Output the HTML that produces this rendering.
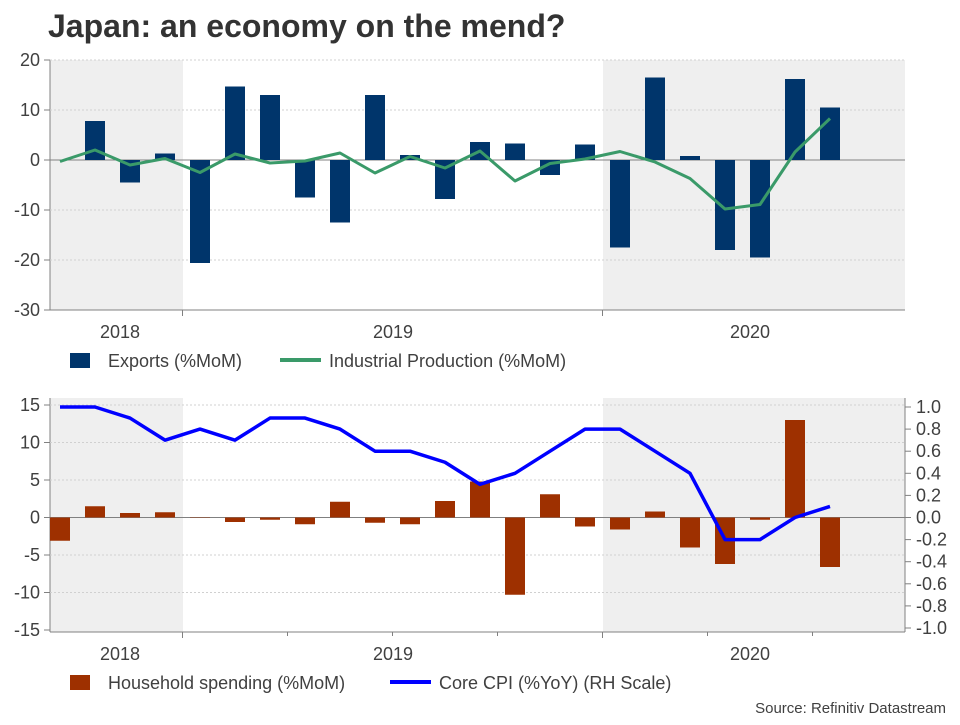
<!DOCTYPE html>
<html><head><meta charset="utf-8"><style>
body{margin:0;background:#fff;font-family:"Liberation Sans",Arial,sans-serif}
svg text{font-family:"Liberation Sans",Arial,sans-serif;fill:#404040}
</style></head><body>
<svg id="c" width="960" height="720" xmlns="http://www.w3.org/2000/svg">
<text x="48" y="37" font-size="32" font-weight="bold" style="fill:#333">Japan: an economy on the mend?</text>
<text x="946" y="713" font-size="15" text-anchor="end">Source: Refinitiv Datastream</text>
</svg>
<script>
const months=["Sep18","Oct18","Nov18","Dec18","Jan19","Feb19","Mar19","Apr19","May19","Jun19","Jul19","Aug19","Sep19","Oct19","Nov19","Dec19","Jan20","Feb20","Mar20","Apr20","May20","Jun20","Jul20"];
const exportsVals=[0,7.8,-4.5,1.3,-20.6,14.7,13,-7.5,-12.5,13,1,-7.8,3.6,3.3,-3,3.1,-17.5,16.5,0.8,-18,-19.5,16.2,10.5];
const ipVals=[-0.3,2.0,-1,0.3,-2.5,1.2,-0.6,-0.2,1.4,-2.6,0.7,-1.6,1.8,-4.2,-0.7,0.2,1.7,-0.4,-3.7,-9.8,-8.9,1.6,8.3];
const hhVals=[-3.1,1.5,0.6,0.7,0.05,-0.6,-0.3,-0.9,2.1,-0.7,-0.9,2.2,4.8,-10.3,3.1,-1.2,-1.6,0.8,-4,-6.2,-0.3,13,-6.6];
const cpiVals=[1.0,1.0,0.9,0.7,0.8,0.7,0.9,0.9,0.8,0.6,0.6,0.5,0.3,0.4,0.6,0.8,0.8,0.6,0.4,-0.2,-0.2,0.0,0.1];
const topTicks=[20,10,0,-10,-20,-30];
const botTicks=[15,10,5,0,-5,-10,-15];
const rTicks=[1.0,0.8,0.6,0.4,0.2,0.0,-0.2,-0.4,-0.6,-0.8,-1.0];
const years=["2018","2019","2020"];

const svg=document.getElementById('c');const NS="http://www.w3.org/2000/svg";
function el(t,a,p){const e=document.createElementNS(NS,t);for(const k in a)e.setAttribute(k,a[k]);(p||svg).appendChild(e);return e;}
const X=i=>60+i*35;
const L=50,R=905;
function panel(y0,y1,pre,minor){
  let g=el('rect',{x:L,y:y0,width:133,height:y1-y0,fill:'#efefef'});
  
  g=el('rect',{x:603,y:y0,width:R-603,height:y1-y0,fill:'#efefef'});
  
  let a=el('line',{x1:L,x2:R,y1:y1,y2:y1,stroke:'#808080'});
  
  a=el('line',{x1:L,x2:L,y1:y0,y2:y1,stroke:'#808080'});
  
  for(let x=182.5;x<R;x+=105){const big=(Math.abs(x-182.5)<1||Math.abs(x-602.5)<1);
    if(!big&&!minor)continue;
    const t=el('line',{x1:x,x2:x,y1:y1,y2:y1+(big?6:4),stroke:'#808080'});
    }
  const yx=[120,393,750];
  years.forEach((y,i)=>{const t=el('text',{x:yx[i],y:y1+28,'font-size':18,'text-anchor':'middle'});t.textContent=y;
    });
}
const Yt=v=>160-v*5;
panel(60,310,'top',false);
topTicks.forEach(v=>{const y=Yt(v);
  if(v!==-30){const gl=el('line',{x1:L,x2:R,y1:y,y2:y,stroke:v===0?'#808080':'#d0d0d0','stroke-dasharray':v===0?'':'2,2'});
  }
  const tk=el('line',{x1:L-6,x2:L,y1:y,y2:y,stroke:'#808080'});
  
  const t=el('text',{x:L-10,y:y+6,'font-size':18,'text-anchor':'end'});t.textContent=v;
  });
exportsVals.forEach((v,i)=>{const r=el('rect',{x:X(i)-10,y:Math.min(Yt(v),Yt(0)),width:20,height:Math.abs(Yt(v)-Yt(0)),fill:'#00356b'});
  });
let p=el('polyline',{points:ipVals.map((v,i)=>X(i)+','+Yt(v)).join(' '),fill:'none',stroke:'#3a9a69','stroke-width':3,'stroke-linejoin':'round'});

let lg=el('rect',{x:70,y:353,width:20,height:15,fill:'#00356b'});
let lt=el('text',{x:108,y:367,'font-size':18});lt.textContent='Exports (%MoM)';
lg=el('line',{x1:280,x2:321,y1:360,y2:360,stroke:'#3a9a69','stroke-width':4});
lt=el('text',{x:329,y:367,'font-size':18});lt.textContent='Industrial Production (%MoM)';
const Yb=v=>517.5-v*7.5;
const Yr=v=>517.5-v*110.5;
panel(398,632,'bottom',true);
let ra=el('line',{x1:R,x2:R,y1:398,y2:632,stroke:'#808080'});
botTicks.forEach(v=>{const y=Yb(v);
  if(v!==-15){const gl=el('line',{x1:L,x2:R,y1:y,y2:y,stroke:v===0?'#808080':'#d0d0d0','stroke-dasharray':v===0?'':'2,2'});
  }
  const tk=el('line',{x1:L-6,x2:L,y1:y,y2:y,stroke:'#808080'});
  const t=el('text',{x:L-10,y:y+6,'font-size':18,'text-anchor':'end'});t.textContent=v;
  });
rTicks.forEach(v=>{const y=Yr(v);
  const tk=el('line',{x1:R,x2:R+6,y1:y,y2:y,stroke:'#808080'});
  const t=el('text',{x:R+11,y:y+6,'font-size':18});t.textContent=v.toFixed(1);
  });
hhVals.forEach((v,i)=>{const r=el('rect',{x:X(i)-10,y:Math.min(Yb(v),Yb(0)),width:20,height:Math.abs(Yb(v)-Yb(0)),fill:'#9e3000'});
  });
p=el('polyline',{points:cpiVals.map((v,i)=>X(i)+','+Yr(v)).join(' '),fill:'none',stroke:'#0000ff','stroke-width':3.5,'stroke-linejoin':'round'});

lg=el('rect',{x:70,y:675,width:20,height:15,fill:'#9e3000'});
lt=el('text',{x:108,y:689,'font-size':18});lt.textContent='Household spending (%MoM)';
lg=el('line',{x1:390,x2:431,y1:682,y2:682,stroke:'#0000ff','stroke-width':4});
lt=el('text',{x:439,y:689,'font-size':18});lt.textContent='Core CPI (%YoY) (RH Scale)';
</script>
</body></html>
